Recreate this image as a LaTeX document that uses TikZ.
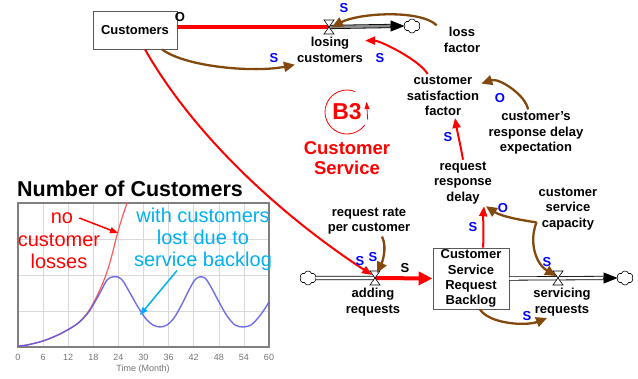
\documentclass[tikz,border=0pt]{standalone}
\usepackage{fontspec}
\setmainfont{Liberation Sans}
\usetikzlibrary{arrows.meta,shapes.symbols}
\definecolor{linkbrown}{RGB}{130,72,12}
\definecolor{polblue}{RGB}{0,0,255}
\definecolor{skyblue}{RGB}{0,176,240}
\definecolor{plotblue}{RGB}{85,85,230}
\definecolor{plotred}{RGB}{255,90,90}
\tikzset{
  lbl/.style={font=\fontsize{13}{15.5}\selectfont\bfseries, align=center, inner sep=2pt},
  pol/.style={font=\fontsize{13}{13}\selectfont\bfseries, text=polblue, inner sep=0pt},
  stockbox/.style={draw=black!65, fill=white, line width=0.9pt, align=center,
    font=\fontsize{13}{15.3}\selectfont\bfseries, inner sep=0pt},
  brownlink/.style={draw=linkbrown, line width=2.3pt, -{Triangle[length=11pt,width=10pt]}},
  redlink/.style={draw=red, line width=2pt, -{Triangle[length=10pt,width=8pt]}},
  pipe/.style={draw=black, double=white, double distance=2.6pt, line width=0.8pt},
  cloudy/.style={cloud, draw, cloud puffs=6, cloud puff arc=140, aspect=1.1,
    minimum width=16pt, minimum height=14pt, inner sep=0pt, line width=0.6pt, fill=white},
  valveshape/.style={draw=black, fill=white, line width=0.6pt},
  ticklbl/.style={font=\fontsize{9}{9}\selectfont, text=black!55, inner sep=0pt},
}
\begin{document}
\begin{tikzpicture}[x=1pt,y=-1pt]
\useasboundingbox (0,0) rectangle (638,379);

% stocks, clouds and valves
\node[stockbox, minimum width=84pt, minimum height=38pt] (cust) at (135,30) {Customers};
\node[stockbox, minimum width=76pt, minimum height=61pt] (backlog) at (471,278.5) {Customer\\Service\\Request\\Backlog};
\node[cloudy] (cloudA) at (412,26) {};
\node[cloudy] (cloudL) at (308,278) {};
\node[cloudy] (cloudR) at (625,278) {};
\coordinate (lv) at (329,27);
\coordinate (av) at (375,278);
\coordinate (sv) at (558,278);

% variables
\node[lbl] (losing) at (330,50) {losing\\customers};
\node[lbl] (lossF) at (462,40) {loss\\factor};
\node[lbl] (satF) at (443,96) {customer\\satisfaction\\factor};
\node[lbl] (expect) at (536,133) {customer's\\response delay\\expectation};
\node[lbl] (respD) at (463,183) {request\\response\\delay};
\node[lbl] (rateC) at (369,221) {request rate\\per customer};
\node[lbl] (adding) at (373,302) {adding\\requests};
\node[lbl] (capacity) at (568,209) {customer\\service\\capacity};
\node[lbl] (servicing) at (562,302) {servicing\\requests};

% pipes
\draw[pipe, double=black!45] (lv) -- ([xshift=-14pt]cloudA.west);
\draw[line width=0.8pt, -{Triangle[length=14pt,width=11pt]}] ([xshift=-15pt]cloudA.west) -- (cloudA.west);
\draw[pipe] (cloudL.east) -- (av);
\draw[pipe] (backlog.east) -- ([xshift=-14pt]cloudR.west);
\draw[line width=0.8pt, -{Triangle[length=14pt,width=11pt]}] ([xshift=-15pt]cloudR.west) -- (cloudR.west);

% flows in the loop
\draw[red, line width=3.5pt] (cust.east |- lv) -- (lv);
\draw[red, line width=4pt, -{Triangle[length=14pt,width=13pt]}] (av) -- (backlog.west);

% valves
\draw[valveshape] (lv) ++(-5,-7) -- ++(10,0) -- ++(-10,14) -- ++(10,0) -- cycle;
\draw[valveshape] (av) ++(-5,-7) -- ++(10,0) -- ++(-10,14) -- ++(10,0) -- cycle;
\draw[valveshape] (sv) ++(-5,-7) -- ++(10,0) -- ++(-10,14) -- ++(10,0) -- cycle;

% causal links
\draw[brownlink] ([xshift=27pt]cust.south) .. controls +(25,18) and +(-40,8) .. (losing.south west);
\draw[brownlink] ([xshift=-5pt]lossF.north west) .. controls +(-17,-16) and +(27,-14) .. ([xshift=3pt]lv);
\draw[redlink] (satF.125) .. controls +(-8,-14) and +(15,0) .. (losing.15);
\draw[brownlink] ([xshift=-8pt]expect.north) .. controls +(-2,-14) and +(18,-6) .. (satF.18);
\draw[redlink] (respD.north) .. controls +(-2,-12) and +(2,12) .. ([xshift=12pt]satF.south);
\draw[red, line width=2pt, -{Triangle[length=10pt,width=8pt]}] ([xshift=10pt]cust.south) .. controls (195,137) and (282,216) .. ([xshift=-3pt,yshift=3pt]av);
\draw[brownlink] ([xshift=13pt]rateC.south) .. controls +(6,12) and +(4,-8) .. ([xshift=2pt,yshift=5pt]av);
\draw[redlink] ([xshift=12pt]backlog.north) .. controls +(1,-12) and +(-1,12) .. ([xshift=21pt]respD.south);
\draw[brownlink] (capacity.203) .. controls +(-15,-2) and +(15,10) .. ([xshift=23pt]respD.south);
\draw[brownlink] (capacity.203) .. controls +(-8,20) and +(-20,-12) .. ([xshift=-2pt,yshift=2pt]sv);
\draw[brownlink] ([xshift=9pt]backlog.south) .. controls +(10,15) and +(-20,8) .. ([xshift=-15pt]servicing.south);

% polarities
\node[pol, text=black] (pCust) at (180,17) {O};
\node[pol] (pLosing) at (274,58) {S};
\node[pol] (pLoss) at (344,8) {S};
\node[pol] (pSat) at (380,58) {S};
\node[pol] (pExpect) at (500,98) {O};
\node[pol] (pResp) at (448,137) {S};
\node[pol] (pCustAdd) at (360,261) {S};
\node[pol] (pRate) at (373,257) {S};
\node[pol, text=black] (pAdd) at (405,268) {S};
\node[pol] (pBacklog) at (473,227) {S};
\node[pol] (pCap) at (503,208) {O};
\node[pol] (pServ) at (547,262) {S};
\node[pol] (pOut) at (527,316) {S};

% loop
\node[font=\fontsize{23}{23}\selectfont\bfseries, text=red, inner sep=0pt] (b3) at (347,112) {B3};
\draw[red, line width=0.8pt] ([shift={(68:22pt)}]b3.center) arc[start angle=68, end angle=324, radius=22pt];
\draw[red, line width=0.8pt, -{Triangle[length=7pt,width=5pt]}] ([shift={(-20:22pt)}]b3.center) -- ([shift={(27:22pt)}]b3.center);
\node[font=\fontsize{18.5}{20}\selectfont\bfseries, text=red, align=center, inner sep=0pt] (loopName) at (347,158) {Customer\\Service};

% graph
\node[font=\fontsize{21.5}{22}\selectfont\bfseries, inner sep=0pt] (plotTitle) at (130,189) {Number of Customers};
\draw[fill=white, draw=none] (18,203) rectangle (269,347);
\foreach \t in {6,12,...,54}
  \draw[black!15, line width=0.6pt] ({18+\t*251/60},203) -- ({18+\t*251/60},347);
\foreach \y in {239,275,311}
  \draw[black!15, line width=0.6pt] (18,\y) -- (269,\y);
\draw[black!50, line width=1.8pt] (18,203) rectangle (269,347);
\foreach \t in {0,6,...,60}
  \node[ticklbl] (tick\t) at ({18+\t*251/60},357) {\t};
\node[ticklbl] (timeLbl) at (143,369) {Time (Month)};
\draw[plotred, line width=1.2pt] plot[smooth, tension=0.5] coordinates {(18,346) (27,345) (43,341) (60,334) (77,324) (88,312) (96,298) (102,285) (107,272) (112,255) (117,235) (122,218) (127,203)};
\draw[plotblue, line width=1.4pt, opacity=0.85] plot[smooth, tension=0.5] coordinates {(18,346) (27,345) (43,341) (60,334) (77,324) (88,313) (96,300) (102,289) (107,280) (112,277) (118,277) (123,281) (130,293) (138,307) (146,319) (153,325) (160,327) (167,325) (174,318) (181,306) (188,292) (194,281) (199,277) (205,278) (211,287) (219,302) (227,316) (235,325) (243,327) (251,325) (258,318) (264,310) (269,302)};

\node[font=\fontsize{20}{22}\selectfont, text=red, inner sep=0pt] (noLbl) at (62,218) {no};
\node[font=\fontsize{20}{22}\selectfont, text=red, align=center, inner sep=0pt] (custLossLbl) at (59,251) {customer\\losses};
\node[font=\fontsize{20}{22}\selectfont, text=skyblue, align=center, inner sep=0pt] (lostLbl) at (203,239) {with customers\\lost due to\\service backlog};
\coordinate (redHit) at (118,233);
\coordinate (blueHit) at (140,315);
\draw[red, line width=1.5pt, -{Triangle[length=8pt,width=6pt]}] ([xshift=6pt]noLbl.east) -- (redHit);
\draw[skyblue, line width=1.5pt, -{Triangle[length=8pt,width=6pt]}] ([xshift=-26pt]lostLbl.south) -- (blueHit);

\end{tikzpicture}
\end{document}
